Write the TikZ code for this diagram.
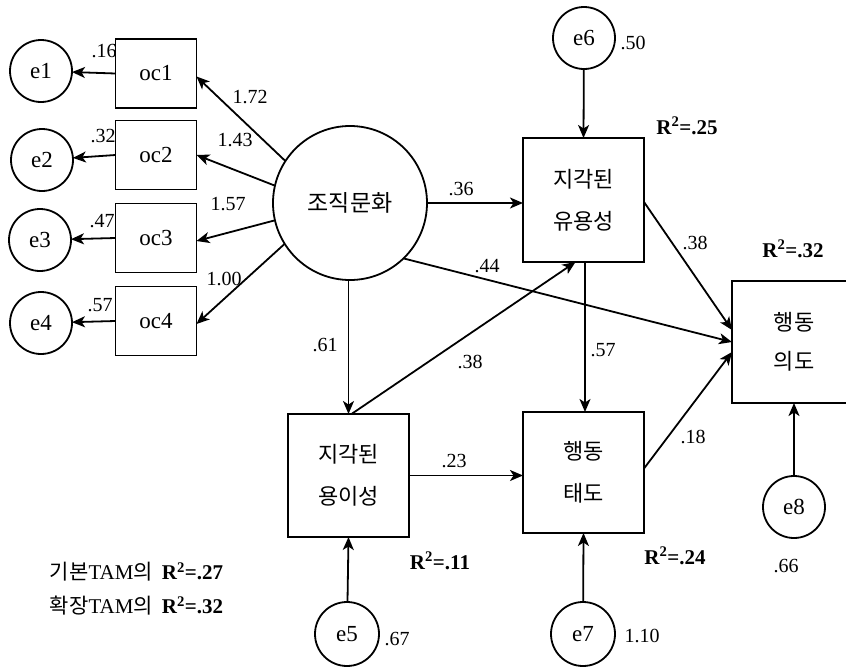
\documentclass[tikz,border=0pt]{standalone}
\usepackage{fontspec}
\setmainfont{Liberation Serif}
\newfontfamily\cjk{Noto Sans CJK KR}
\usetikzlibrary{arrows.meta}
\begin{document}
\begin{tikzpicture}[x=1pt,y=-1pt,
  line width=1.8pt,
  arr/.style={line width=1.8pt,-{Stealth[length=13pt,width=11pt,inset=3.5pt]}},
  errc/.style={draw,line width=1.8pt,circle,inner sep=0pt,outer sep=0pt,minimum size=62pt,font=\fontsize{23}{23}\selectfont},
  obsbox/.style={draw,line width=1.8pt,rectangle,inner sep=0pt,outer sep=0pt,minimum width=81pt,minimum height=69pt,font=\fontsize{23}{23}\selectfont},
  bigbox/.style={draw,line width=1.8pt,rectangle,inner sep=0pt,outer sep=0pt,minimum width=121pt,minimum height=123pt,align=center,font=\cjk\fontsize{22}{42}\selectfont},
  lab/.style={inner sep=0pt,font=\fontsize{20}{20}\selectfont},
  rsq/.style={inner sep=0pt,font=\bfseries\fontsize{21}{21}\selectfont},
  leg/.style={inner sep=0pt,anchor=west,font=\fontsize{21}{21}\selectfont}]
\useasboundingbox (0,0) rectangle (846,667);
\clip (0,0) rectangle (846,667);
% error circles for indicators
\node[errc] (e1) at (41,71) {e1};
\node[errc] (e2) at (42,160) {e2};
\node[errc] (e3) at (40,240) {e3};
\node[errc] (e4) at (41,323) {e4};
% indicators
\node[obsbox] (oc1) at (156,73.5) {oc1};
\node[obsbox] (oc2) at (156,155) {oc2};
\node[obsbox] (oc3) at (156,238) {oc3};
\node[obsbox] (oc4) at (156,321) {oc4};
% latent
\node[draw,line width=1.8pt,circle,inner sep=0pt,outer sep=0pt,minimum size=154pt,font=\cjk\fontsize{23}{23}\selectfont] (OC) at (350,203) {조직문화};
% constructs
\node[bigbox,minimum height=124pt] (PU) at (583.5,200) {지각된\\유용성};
\node[bigbox,minimum height=123pt] (PEOU) at (348.5,475.5) {지각된\\용이성};
\node[bigbox,minimum height=121pt] (ATT) at (583.5,472.5) {행동\\태도};
\node[bigbox,minimum width=124pt,minimum height=122pt,font=\cjk\fontsize{22}{39}\selectfont] (BI) at (794,342) {행동\\의도};
% error circles for constructs
\node[errc] (e6) at (584,38) {e6};
\node[errc,minimum size=64pt] (e5) at (347,634) {e5};
\node[errc,minimum size=64pt] (e7) at (583,634) {e7};
\node[errc] (e8) at (794,507) {e8};
% measurement arrows
\draw[arr] (oc1.west) -- (e1);
\draw[arr] (oc2.west) -- (e2);
\draw[arr] (oc3.west) -- (e3);
\draw[arr] (oc4.west) -- (e4);
\draw[arr] (OC.147) -- ([yshift=-3pt]oc1.east);
\draw[arr] (OC.167) -- (oc2.east);
\draw[arr] (OC.193) -- ([yshift=-3pt]oc3.east);
\draw[arr] (OC.212) -- ([yshift=-3pt]oc4.east);
% structural arrows
\draw[arr] (OC.east) -- (OC.east -| PU.west);
\draw[arr] (OC.-46) -- (BI.west);
\draw[arr] (OC.south -| PEOU.north) -- (PEOU.north);
\draw[arr] ([xshift=3pt]PEOU.north) -- ([xshift=-8pt]PU.south);
\draw[arr] ([xshift=1.5pt]PU.south) -- ([xshift=1.5pt]ATT.north);
\draw[arr] ([yshift=-2pt]PU.east) -- ([yshift=12pt]BI.west);
\draw[arr] ([yshift=4pt]ATT.east) -- ([yshift=-10pt]BI.west);
\draw[arr] (PEOU.east) -- (PEOU.east -| ATT.west);
\draw[arr] (e6) -- (PU.north);
\draw[arr] (e5) -- (PEOU.south);
\draw[arr] (e7) -- (ATT.south);
\draw[arr] (e8) -- (BI.south);
% coefficient labels
\node[lab] (l16) at (104,51) {.16};
\node[lab] (l32) at (103,136) {.32};
\node[lab] (l47) at (102,221) {.47};
\node[lab] (l57a) at (100,305) {.57};
\node[lab] (l172) at (250,97) {1.72};
\node[lab] (l143) at (235,140) {1.43};
\node[lab] (l157) at (228,204) {1.57};
\node[lab] (l100) at (224,279) {1.00};
\node[lab] (l36) at (461,189) {.36};
\node[lab] (l44) at (487,266) {.44};
\node[lab] (l61) at (325,345) {.61};
\node[lab] (l38a) at (470,362) {.38};
\node[lab] (l23) at (454,461) {.23};
\node[lab] (l57b) at (603,350) {.57};
\node[lab] (l38b) at (695,243) {.38};
\node[lab] (l18) at (693,437) {.18};
\node[lab] (l50) at (633,43) {.50};
\node[lab] (l67) at (397,639) {.67};
\node[lab] (l110) at (642,636) {1.10};
\node[lab] (l66) at (786,566) {.66};
% R squared
\node[rsq] (r25) at (687,126) {R\textsuperscript{2}=.25};
\node[rsq] (r32) at (793,249) {R\textsuperscript{2}=.32};
\node[rsq] (r11) at (440,561) {R\textsuperscript{2}=.11};
\node[rsq] (r24) at (675,556) {R\textsuperscript{2}=.24};
% legend
\node[leg] (leg1) at (49,572) {{\cjk 기본}TAM{\cjk 의}\hspace{9pt}\textbf{R\textsuperscript{2}=.27}};
\node[leg] (leg2) at (49,606) {{\cjk 확장}TAM{\cjk 의}\hspace{9pt}\textbf{R\textsuperscript{2}=.32}};
\end{tikzpicture}
\end{document}
